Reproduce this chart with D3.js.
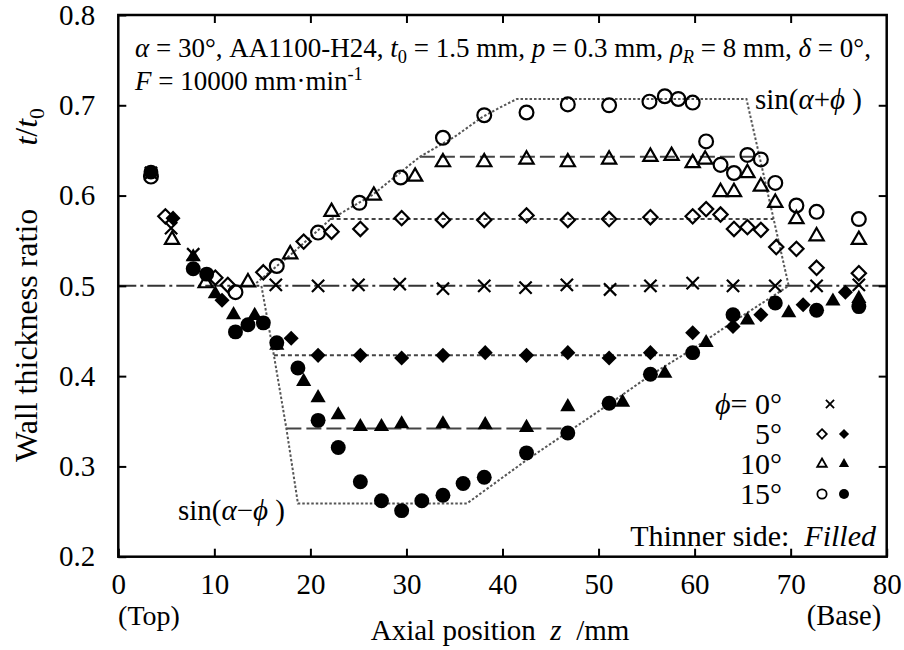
<!DOCTYPE html>
<html>
<head>
<meta charset="utf-8">
<script src="https://cdn.jsdelivr.net/npm/d3@7"></script>
<style>
  body { margin: 0; background: #fff; }
  svg text { font-family: "Liberation Serif", "Times New Roman", serif; fill: #000; white-space: pre; }
</style>
</head>
<body>
<div class="d3Chart"></div>
<script>
// axial position z (mm) and wall thickness ratio t/t0
const xTicks = [0, 10, 20, 30, 40, 50, 60, 70, 80]
const yTicks = [0.2, 0.3, 0.4, 0.5, 0.6, 0.7, 0.8]

// phi = 0
const phi0Z = [3.4, 5.5, 7.8, 16.4, 20.8, 25.0, 29.3, 33.8, 38.1, 42.4, 46.7, 51.2, 55.4, 59.8, 64.0, 68.4, 72.7, 77.1]
const phi0T = [0.625, 0.564, 0.535, 0.501, 0.500, 0.501, 0.502, 0.497, 0.500, 0.498, 0.501, 0.496, 0.500, 0.503, 0.500, 0.500, 0.500, 0.501]

// phi = 5, thicker side (open) / thinner side (filled)
const phi5OpenZ = [4.9, 10.1, 11.4, 15.1, 19.3, 22.2, 25.2, 29.5, 33.8, 38.1, 42.5, 46.8, 51.1, 55.4, 59.8, 61.2, 62.7, 64.1, 65.5, 66.9, 68.5, 70.6, 72.7, 77.1]
const phi5OpenT = [0.577, 0.509, 0.501, 0.515, 0.549, 0.560, 0.563, 0.575, 0.573, 0.573, 0.578, 0.573, 0.574, 0.576, 0.577, 0.585, 0.579, 0.563, 0.565, 0.562, 0.543, 0.541, 0.520, 0.514]
const phi5FillZ = [5.7, 10.8, 18.0, 20.8, 25.2, 29.5, 33.8, 38.2, 42.5, 46.8, 51.1, 55.4, 59.8, 64.0, 66.9, 71.3, 75.7]
const phi5FillT = [0.575, 0.484, 0.442, 0.423, 0.423, 0.420, 0.423, 0.426, 0.423, 0.426, 0.420, 0.426, 0.448, 0.455, 0.468, 0.479, 0.493]

// phi = 10
const phi10OpenZ = [5.6, 9.1, 13.5, 17.9, 22.2, 26.6, 30.9, 33.8, 38.1, 42.5, 46.8, 51.1, 55.4, 57.6, 59.8, 61.1, 62.7, 64.1, 65.5, 66.9, 68.4, 70.6, 72.7, 77.1]
const phi10OpenT = [0.551, 0.503, 0.504, 0.535, 0.582, 0.600, 0.621, 0.637, 0.637, 0.640, 0.637, 0.640, 0.643, 0.644, 0.636, 0.640, 0.604, 0.604, 0.625, 0.610, 0.592, 0.574, 0.555, 0.551]
const phi10FillZ = [7.8, 10.1, 12.0, 14.2, 16.5, 19.3, 20.8, 22.9, 25.2, 27.4, 29.5, 33.8, 38.2, 42.5, 46.8, 52.5, 56.9, 61.2, 65.5, 69.8, 74.4, 77.1]
const phi10FillT = [0.532, 0.491, 0.468, 0.467, 0.434, 0.394, 0.376, 0.357, 0.344, 0.344, 0.347, 0.347, 0.346, 0.343, 0.366, 0.371, 0.403, 0.437, 0.462, 0.470, 0.483, 0.486]

// phi = 15
const phi15OpenZ = [3.4, 12.2, 16.5, 20.8, 25.1, 29.4, 33.8, 38.1, 42.5, 46.8, 51.1, 55.3, 56.9, 58.3, 59.8, 61.2, 62.7, 64.1, 65.5, 66.9, 68.4, 70.6, 72.7, 77.1]
const phi15OpenT = [0.621, 0.493, 0.522, 0.559, 0.592, 0.620, 0.664, 0.689, 0.692, 0.701, 0.700, 0.704, 0.710, 0.707, 0.703, 0.660, 0.634, 0.625, 0.645, 0.640, 0.614, 0.589, 0.582, 0.574]
const phi15FillZ = [3.4, 7.8, 9.2, 12.2, 13.5, 15.1, 16.5, 18.7, 20.8, 22.9, 25.2, 27.4, 29.5, 31.6, 33.8, 35.9, 38.1, 42.5, 46.8, 51.1, 55.4, 59.8, 64.0, 68.4, 72.7, 77.1]
const phi15FillT = [0.626, 0.519, 0.513, 0.449, 0.457, 0.459, 0.437, 0.409, 0.351, 0.321, 0.283, 0.262, 0.251, 0.262, 0.268, 0.281, 0.288, 0.315, 0.337, 0.370, 0.402, 0.426, 0.468, 0.481, 0.473, 0.477]

// envelopes sin(alpha + phi) and sin(alpha - phi)
const sinPlusZ = [14.0, 18.0, 22.0, 26.5, 31.4, 35.0, 37.9, 40.0, 41.5, 65.4, 69.8]
const sinPlusT = [0.500, 0.535, 0.573, 0.601, 0.643, 0.665, 0.687, 0.699, 0.707, 0.707, 0.500]
const sinMinusZ = [14.9, 16.2, 17.5, 18.7, 36.3, 42.5, 46.8, 51.1, 55.4, 59.8, 64.0, 69.8]
const sinMinusT = [0.500, 0.423, 0.342, 0.259, 0.259, 0.307, 0.338, 0.369, 0.401, 0.430, 0.460, 0.500]

// plateau levels: sin35, sin40, sin25, sin20, and the phi = 0 level
const plateauT = [0.574, 0.643, 0.423, 0.342, 0.5]
const plateauFrom = [22.0, 31.4, 16.2, 17.5, 0]
const plateauTo = [68.2, 66.7, 58.3, 46.8, 80]

const width = 904
const height = 650
const margin = { left: 118.3, right: 17.3, top: 15, bottom: 93.3 }

const x = d3.scaleLinear().domain([0, 80]).range([margin.left, width - margin.right])
const y = d3.scaleLinear().domain([0.2, 0.8]).range([height - margin.bottom, margin.top])

const svg = d3.select('.d3Chart').append('svg')
  .attr('width', width)
  .attr('height', height)

const zip = (zs, ts) => zs.map((z, i) => [z, ts[i]])

// 参考线
const line = d3.line().x(d => x(d[0])).y(d => y(d[1]))
const lineG = svg.append('g').attr('fill', 'none')

const plateauDash = ['4,3', '15,5', '4,3', '15,5', '18,4,3,4']
plateauT.forEach((t, i) => {
  lineG.append('path')
    .attr('d', line([[plateauFrom[i], t], [plateauTo[i], t]]))
    .attr('stroke', i === 4 ? '#333' : '#444')
    .attr('stroke-width', 2)
    .attr('stroke-dasharray', plateauDash[i])
})

;[zip(sinPlusZ, sinPlusT), zip(sinMinusZ, sinMinusT)].forEach(d => {
  lineG.append('path')
    .attr('d', line(d))
    .attr('stroke', '#555')
    .attr('stroke-width', 2)
    .attr('stroke-dasharray', '2.5,2')
})

// 绘制标记
const shapes = {
  x: { type: d3.symbolX, size: 100, fill: false },
  diamondOpen: { type: d3.symbolDiamond2, size: 130, fill: false },
  diamondFill: { type: d3.symbolDiamond2, size: 145, fill: true },
  triOpen: { type: d3.symbolTriangle2, size: 145, fill: false },
  triFill: { type: d3.symbolTriangle, size: 100, fill: true },
  circOpen: { type: d3.symbolCircle, size: 150, fill: false },
  circFill: { type: d3.symbolCircle, size: 175, fill: true }
}

function drawMarks (data, shape) {
  const s = shapes[shape]
  svg.append('g')
    .selectAll('path')
    .data(data)
    .enter()
    .append('path')
    .attr('transform', d => `translate(${x(d[0])},${y(d[1])})`)
    .attr('d', d3.symbol().type(s.type).size(s.size))
    .attr('fill', s.fill ? '#000' : 'none')
    .attr('stroke', '#000')
    .attr('stroke-width', s.fill ? 0 : 2.2)
}

drawMarks(zip(phi5OpenZ, phi5OpenT), 'diamondOpen')
drawMarks(zip(phi10OpenZ, phi10OpenT), 'triOpen')
drawMarks(zip(phi15OpenZ, phi15OpenT), 'circOpen')
drawMarks(zip(phi0Z, phi0T), 'x')
drawMarks(zip(phi5FillZ, phi5FillT), 'diamondFill')
drawMarks(zip(phi10FillZ, phi10FillT), 'triFill')
drawMarks(zip(phi15FillZ, phi15FillT), 'circFill')

// 坐标轴
const fs = 29
const axes = [
  svg.append('g').attr('transform', `translate(0,${y(0.2)})`)
    .call(d3.axisBottom(x).tickValues(xTicks).tickSize(-8).tickPadding(17).tickFormat(d3.format('d'))),
  svg.append('g').attr('transform', `translate(${x(0)},0)`)
    .call(d3.axisLeft(y).tickValues(yTicks).tickSize(-8).tickPadding(23).tickFormat(d3.format('.1f'))),
  svg.append('g').attr('transform', `translate(0,${y(0.8)})`)
    .call(d3.axisTop(x).tickValues(xTicks.slice(1, -1)).tickSize(-8).tickFormat('')),
  svg.append('g').attr('transform', `translate(${x(80)},0)`)
    .call(d3.axisRight(y).tickValues(yTicks.slice(1, -1)).tickSize(-8).tickFormat(''))
]
axes.forEach(g => {
  g.select('.domain').remove()
  g.selectAll('line').attr('stroke', '#000').attr('stroke-width', 2)
  g.selectAll('text').attr('font-size', fs).attr('fill', '#000')
})

svg.append('rect')
  .attr('x', x(0)).attr('y', y(0.8))
  .attr('width', x(80) - x(0)).attr('height', y(0.2) - y(0.8))
  .attr('fill', 'none').attr('stroke', '#000').attr('stroke-width', 2.5)

// 文字
function richText (px, py, parts, size, anchor = 'start', rotate = 0) {
  const t = svg.append('text')
    .attr('font-size', size)
    .attr('text-anchor', anchor)
    .attr('transform', `translate(${px},${py}) rotate(${rotate})`)
  let shift = 0
  parts.forEach(([s, f = '']) => {
    const sp = t.append('tspan').text(s)
    if (f.includes('i')) sp.attr('font-style', 'italic')
    let next = 0
    if (f.includes('_')) next = size * 0.22
    if (f.includes('^')) next = -size * 0.38
    if (f.includes('_') || f.includes('^')) sp.attr('font-size', size * 0.68)
    if (next !== shift) sp.attr('dy', next - shift)
    shift = next
  })
  return t
}

richText(135, 57, [['α', 'i'], [' = 30°, AA1100-H24, '], ['t', 'i'], ['0', '_'], [' = 1.5 mm, '], ['p', 'i'],
  [' = 0.3 mm, '], ['ρ', 'i'], ['R', 'i_'], [' = 8 mm, '], ['δ', 'i'], [' = 0°,']], 27)
richText(135, 90, [['F', 'i'], [' = 10000 mm·min'], ['-1', '^']], 27)

richText(755, 109, [['sin('], ['α', 'i'], ['+'], ['ϕ', 'i'], [' )']], 29)
richText(178, 520, [['sin('], ['α', 'i'], ['−'], ['ϕ', 'i'], [' )']], 29)

// 图例
const legendRows = [['x'], ['diamondOpen', 'diamondFill'], ['triOpen', 'triFill'], ['circOpen', 'circFill']]
const legendLabels = ['0°', '5°', '10°', '15°']
legendRows.forEach((row, i) => {
  const cy = 404 + i * 30
  const label = i === 0 ? [['ϕ', 'i'], ['= 0°']] : [[legendLabels[i]]]
  richText(782, cy + 10, label, 30, 'end')
  row.forEach((shape, j) => {
    const s = shapes[shape]
    const cx = row.length === 1 ? 830 : 822 + j * 22
    svg.append('path')
      .attr('transform', `translate(${cx},${cy})`)
      .attr('d', d3.symbol().type(s.type).size(s.size * 0.45))
      .attr('fill', s.fill ? '#000' : 'none')
      .attr('stroke', '#000')
      .attr('stroke-width', s.fill ? 0 : 1.8)
  })
})
richText(876, 546, [['Thinner side:  '], ['Filled', 'i']], 30, 'end')

// 轴标题
richText(500, 640, [['Axial position  '], ['z', 'i'], ['  /mm']], 29, 'middle')
richText(149, 625, [['(Top)']], 28, 'middle')
richText(844, 625, [['(Base)']], 28.5, 'middle')
richText(37, 462, [['Wall thickness ratio']], 32, 'start', -90)
richText(37, 108, [['t', 'i'], ['/'], ['t', 'i'], ['0', '_']], 32, 'end', -90)
</script>
</body>
</html>
